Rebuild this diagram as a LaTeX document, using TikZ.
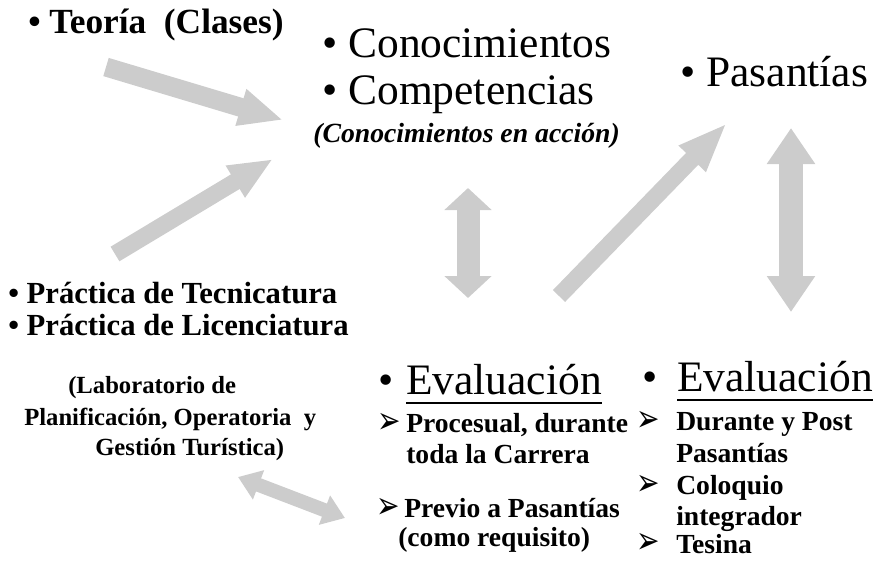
\documentclass[tikz,border=0pt]{standalone}
\usepackage{fontspec}
\setmainfont{Liberation Serif}
\newfontfamily\dejavu{DejaVu Sans}
\usetikzlibrary{arrows.meta}
\definecolor{arrowgray}{HTML}{CCCCCC}
\newcommand\arrowbullet{\raisebox{0pt}[\height][0pt]{\scalebox{1}[1.35]{➢}}}
\begin{document}
\begin{tikzpicture}[x=0.75pt,y=-0.75pt,
  txt/.style={anchor=base west,inner sep=0pt},
  big/.style={txt,font=\fontsize{32.6pt}{36pt}\selectfont},
  headtxt/.style={txt,font=\fontsize{26.5pt}{30pt}\selectfont\bfseries},
  prac/.style={txt,font=\fontsize{23pt}{27pt}\selectfont\bfseries},
  labtxt/.style={txt,font=\fontsize{18.5pt}{22pt}\selectfont\bfseries},
  subtxt/.style={txt,font=\fontsize{20.7pt}{24pt}\selectfont\bfseries},
  itxt/.style={txt,font=\fontsize{20.8pt}{24pt}\selectfont\bfseries\itshape},
  tri/.style={txt,font=\fontsize{21pt}{24pt}\selectfont\dejavu},
  garrow/.style={draw=arrowgray,line cap=butt},
  ul/.style={line width=1.5pt}]
\useasboundingbox (0,0) rectangle (878,562);

% texts
\node[headtxt] (teoria) at (28,33) {•\ Teoría\ \ (Clases)};
\node[big] (conoc) at (322,57) {• Conocimientos};
\node[big] (compet) at (322,104) {• Competencias};
\node[itxt] (accion) at (313,142) {(Conocimientos en acción)};
\node[big] (pasant) at (680,86) {• Pasantías};
\node[prac] (ptec) at (8,303) {• Práctica de Tecnicatura};
\node[prac] (plic) at (8,335) {• Práctica de Licenciatura};
\node[labtxt] (lab1) at (68,393) {(Laboratorio de};
\node[labtxt] (lab2) at (24,425) {Planificación, Operatoria\ \ y};
\node[labtxt] (lab3) at (95,455) {Gestión Turística)};

\node[big] (evb1) at (378,394) {•};
\node[big] (ev1) at (406,394) {Evaluación};
\draw[ul] ([yshift=-6.75pt]ev1.base west) -- ([yshift=-6.75pt]ev1.base east);
\node[big] (evb2) at (642,391) {•};
\node[big] (ev2) at (677,391) {Evaluación};
\draw[ul] ([yshift=-6.75pt]ev2.base west) -- ([yshift=-6.75pt]ev2.base east);

\node[tri] (t1) at (377,433) {\arrowbullet};
\node[subtxt] (s1a) at (406,432) {Procesual, durante};
\node[subtxt] (s1b) at (406,463) {toda la Carrera};
\node[tri] (t2) at (376,518) {\arrowbullet};
\node[subtxt] (s2a) at (404,517) {Previo a Pasantías};
\node[subtxt] (s2b) at (398,546) {(como requisito)};

\node[tri] (t3) at (636,431) {\arrowbullet};
\node[subtxt] (r1a) at (676,430) {Durante y Post};
\node[subtxt] (r1b) at (676,462) {Pasantías};
\node[tri] (t4) at (636,495) {\arrowbullet};
\node[subtxt] (r2a) at (676,494) {Coloquio};
\node[subtxt] (r2b) at (676,525) {integrador};
\node[tri] (t5) at (636,553) {\arrowbullet};
\node[subtxt] (r3a) at (676,553) {Tesina};

% arrow end points
\coordinate (a1s) at (106,67);  \coordinate (a1e) at (283,120);
\coordinate (a2s) at (115,254); \coordinate (a2e) at (273,159);
\coordinate (a3s) at (468,188); \coordinate (a3e) at (468,298);
\coordinate (a4s) at (559,296); \coordinate (a4e) at (727,123);
\coordinate (a5s) at (791,128); \coordinate (a5e) at (791,312);
\coordinate (a6s) at (238,477); \coordinate (a6e) at (345,518);

\draw[garrow,line width=14.25pt,-{Triangle[length=33pt,width=26.25pt]}] (a1s) -- (a1e);
\draw[garrow,line width=12.75pt,-{Triangle[length=33pt,width=25.5pt]}] (a2s) -- (a2e);
\draw[garrow,line width=17.25pt,{Triangle[length=16.5pt,width=34.5pt]}-{Triangle[length=16.5pt,width=34.5pt]}] (a3s) -- (a3e);
\draw[garrow,line width=12.75pt,-{Triangle[length=37.5pt,width=25.5pt]}] (a4s) -- (a4e);
\draw[garrow,line width=18pt,{Triangle[length=27pt,width=34.5pt]}-{Triangle[length=27pt,width=34.5pt]}] (a5s) -- (a5e);
\draw[garrow,line width=10.5pt,{Triangle[length=16.5pt,width=22.5pt]}-{Triangle[length=16.5pt,width=22.5pt]}] (a6s) -- (a6e);
\end{tikzpicture}
\end{document}
